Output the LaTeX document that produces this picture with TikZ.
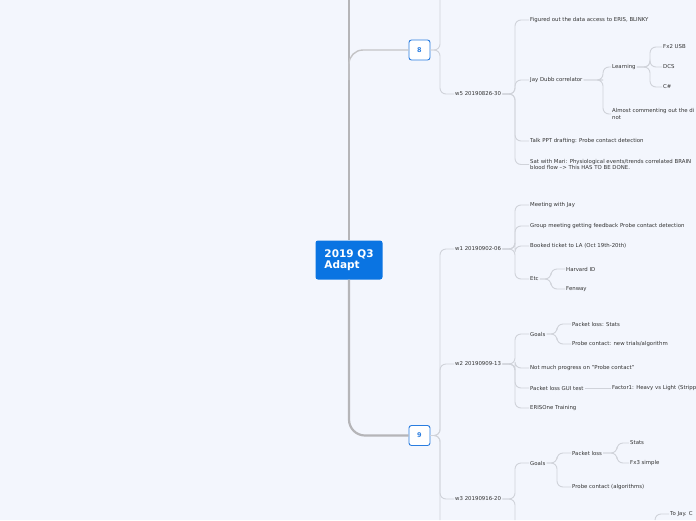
\documentclass[tikz,border=0pt]{standalone}
\usepackage{fontspec}
\setmainfont{DejaVu Sans}
\definecolor{bg}{HTML}{F3F6FD}
\definecolor{ln}{HTML}{D0D3DA}
\definecolor{trk}{HTML}{B5B5B8}
\definecolor{tx}{HTML}{333333}
\definecolor{rootc}{HTML}{0A74E2}
\definecolor{bdr}{HTML}{2A7DE0}
\begin{document}
\begin{tikzpicture}[x=1pt,y=-1pt,
  t/.style={font=\fontsize{5.4}{6.6}\selectfont,anchor=west,inner sep=1pt,text=tx,align=left},
  lnk/.style={draw=ln,line width=0.9pt,rounded corners=6},
  trunk/.style={draw=trk,line width=2.2pt,rounded corners=16},
  trunk2/.style={draw=trk!80,line width=1.4pt,rounded corners=14},
  numbox/.style={draw=bdr,line width=0.9pt,fill=white,rounded corners=2.5,minimum width=21pt,minimum height=20pt,font=\fontsize{6.5}{7}\selectfont\bfseries,text=bdr,inner sep=0pt}]
\useasboundingbox (0,0) rectangle (696,520);
\fill[bg] (0,0) rectangle (696,520);
\clip (0,0) rectangle (696,520);
% root and trunk
\node[fill=rootc,rounded corners=2.5,text=white,font=\fontsize{10.5}{11}\selectfont\bfseries,align=left,minimum width=67pt,minimum height=39pt,inner sep=2pt] (root) at (349,260) {2019 Q3\\Adapt};
\node[numbox] (n8) at (419.5,50) {8};
\node[numbox] (n9) at (419.5,435.5) {9};
\coordinate (top) at (349,0);
\draw[trunk] (top) -- (root.north);
\draw[trunk] (root.south) |- (n9.west);
\draw[trunk2] (349,80) |- (n8.west);
% node 8
\node[t] (w5) at (454,94) {w5 20190826-30};
\draw[lnk] (n8.east) -- (440,50) -- (440,0);
\draw[lnk] (n8.east) -| (440,70) |- (w5.west);
\node[t] (a1) at (529,20) {Figured out the data access to ERIS, BLINKY};
\node[t] (a2) at (529,80) {Jay Dubb correlator};
\node[t] (a3) at (529,141) {Talk PPT drafting: Probe contact detection};
\node[t] (a4) at (529,164.5) {Sat with Mari: Physiological events/trends correlated BRAIN\\blood flow --> This HAS TO BE DONE.};
\foreach \c in {a1,a2,a3,a4} \draw[lnk] (w5.east) -- (515,94) |- (\c.west);
\node[t] (l1) at (611,67) {Learning};
\node[t] (l2) at (611,114) {Almost commenting out the di\\not};
\foreach \c in {l1,l2} \draw[lnk] (a2.east) -- (597,80) -- (603,80) |- (\c.west);
\node[t] (f1) at (662,47) {Fx2 USB};
\node[t] (f2) at (662,67) {DCS};
\node[t] (f3) at (662,87) {C\#};
\foreach \c in {f1,f2,f3} \draw[lnk] (l1.east) -- (650,67) |- (\c.west);
% node 9
\node[t] (w1) at (454,249) {w1 20190902-06};
\node[t] (w2) at (454,364) {w2 20190909-13};
\node[t] (w3) at (454,499) {w3 20190916-20};
\foreach \c in {w1,w2,w3} \draw[lnk] (n9.east) -- (440,435.5) |- (\c.west);
\draw[lnk] (n9.east) -- (440,435.5) -- (440,520);
% w1
\node[t] (b1) at (529,205) {Meeting with Jay};
\node[t] (b2) at (529,226) {Group meeting getting feedback Probe contact detection};
\node[t] (b3) at (529,246) {Booked ticket to LA (Oct 19th-20th)};
\node[t] (b4) at (529,279) {Etc};
\foreach \c in {b1,b2,b3,b4} \draw[lnk] (w1.east) -- (515,249) |- (\c.west);
\node[t] (e1) at (565,269) {Harvard ID};
\node[t] (e2) at (565,289) {Fenway};
\foreach \c in {e1,e2} \draw[lnk] (b4.east) -- (551,279) |- (\c.west);
% w2
\node[t] (c1) at (529,334) {Goals};
\node[t] (c2) at (529,368) {Not much progress on "Probe contact"};
\node[t] (c3) at (529,388) {Packet loss GUI test};
\node[t] (c4) at (529,408) {ERISOne Training};
\foreach \c in {c1,c2,c3,c4} \draw[lnk] (w2.east) -- (515,364) |- (\c.west);
\node[t] (g1) at (571,324) {Packet loss: Stats};
\node[t] (g2) at (571,344) {Probe contact: new trials/algorithm};
\foreach \c in {g1,g2} \draw[lnk] (c1.east) -- (557,334) |- (\c.west);
\node[t] (h1) at (611,388) {Factor1: Heavy vs Light (Stripp};
\draw[lnk] (c3.east) -- (h1.west);
% w3
\node[t] (d1) at (529,463) {Goals};
\coordinate (dd) at (515,520);
\draw[lnk] (w3.east) -- (515,499) |- (d1.west);
\draw[lnk] (w3.east) -- (515,499) -- (dd);
\node[t] (p1) at (571,453) {Packet loss};
\node[t] (p2) at (571,487) {Probe contact (algorithms)};
\foreach \c in {p1,p2} \draw[lnk] (d1.east) -- (557,463) |- (\c.west);
\node[t] (s1) at (629,443) {Stats};
\node[t] (s2) at (629,463) {Fx3 simple};
\foreach \c in {s1,s2} \draw[lnk] (p1.east) -- (617,453) |- (\c.west);
\node[t] (j1) at (669,514) {To Jay. C};
\coordinate (jb) at (655,520);
\draw[lnk] (jb) |- (j1.west);
\end{tikzpicture}
\end{document}
